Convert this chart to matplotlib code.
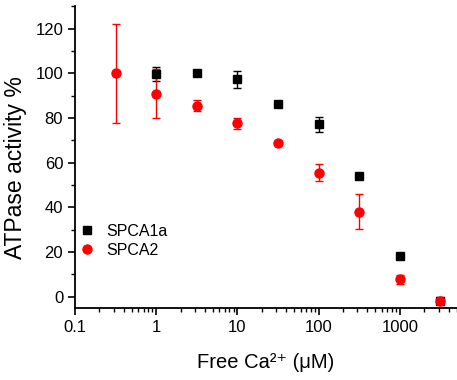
import matplotlib
matplotlib.use("Agg")
import matplotlib.pyplot as plt
from matplotlib.lines import Line2D
from matplotlib.ticker import LogLocator, MultipleLocator, FixedLocator, FixedFormatter

plt.rcParams['font.family'] = ['Liberation Sans', 'DejaVu Sans']

# SPCA1a
ca_1a = [1, 3.16, 10, 31.6, 100, 316, 1000, 3162]
act_1a = [99.7, 100, 97.3, 86.5, 77.2, 54, 18, -1.8]
err_1a = [3, 1, 4, 1, 3.5, 1, 1, 1]

# SPCA2
ca_2 = [0.316, 1, 3.16, 10, 31.6, 100, 316, 1000, 3162]
act_2 = [100, 91, 85.6, 77.6, 68.9, 55.6, 38, 7.8, -1.8]
err_2 = [22, 11, 2.5, 2.5, 1, 3.7, 7.8, 2, 1.5]

xticks = [0.1, 1, 10, 100, 1000]
xticklabels = ["0.1", "1", "10", "100", "1000"]

fig = plt.figure(figsize=(4.57, 3.8), dpi=100)
ax = fig.add_axes([0.164, 0.19, 0.835, 0.793])

ax.errorbar(ca_1a, act_1a, yerr=err_1a, fmt='s', color='black', ms=5.5,
            capsize=3, elinewidth=1, capthick=1)
ax.errorbar(ca_2, act_2, yerr=err_2, fmt='o', color='red', ms=6.5,
            capsize=3, elinewidth=1, capthick=1)

ax.set_xscale('log')
ax.set_xlim(0.1, 5000)
ax.set_ylim(-5, 130)
ax.xaxis.set_major_locator(FixedLocator(xticks))
ax.xaxis.set_major_formatter(FixedFormatter(xticklabels))
ax.xaxis.set_minor_locator(LogLocator(base=10, subs=range(2, 10), numticks=20))
ax.set_yticks([0, 20, 40, 60, 80, 100, 120])
ax.yaxis.set_minor_locator(MultipleLocator(10))

for s in ['top', 'right']:
    ax.spines[s].set_visible(False)
for s in ['left', 'bottom']:
    ax.spines[s].set_linewidth(1.3)

ax.tick_params(which='major', direction='out', length=5, width=1.2, labelsize=12)
ax.tick_params(which='minor', direction='out', length=3, width=1)

ax.set_xlabel("Free Ca\u00b2\u207a (\u03bcM)", fontsize=14.5, labelpad=13)
ax.set_ylabel("ATPase activity %", fontsize=16.5)
ax.yaxis.set_label_coords(-0.125, 0.464)

handles = [
    Line2D([], [], marker='s', color='black', ls='none', ms=5.5, label='SPCA1a'),
    Line2D([], [], marker='o', color='red', ls='none', ms=6.5, label='SPCA2'),
]
ax.legend(handles=handles, loc='upper left', bbox_to_anchor=(-0.015, 0.31), frameon=False,
          fontsize=11.5, handletextpad=0.7, borderaxespad=0.2,
          labelspacing=0.25, handlelength=1.0)

fig.savefig("out.png", dpi=100)
